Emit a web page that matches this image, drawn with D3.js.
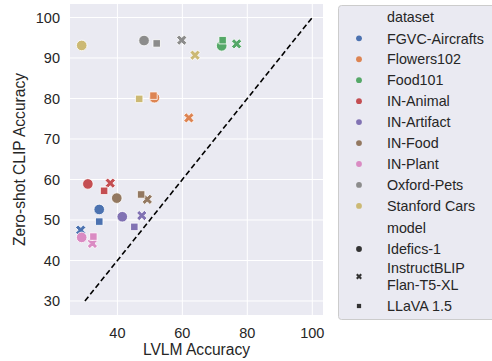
<!DOCTYPE html>
<html>
<head>
<meta charset="utf-8">
<script src="https://cdn.jsdelivr.net/npm/d3@7"></script>
<style>
  body { margin: 0; background: #fff; }
  text { font-family: "Liberation Sans", Arial, sans-serif; fill: #262626; }
</style>
</head>
<body>
<svg id="chart" width="492" height="361"></svg>
<script>
const datasets = ["FGVC-Aircrafts", "Flowers102", "Food101", "IN-Animal", "IN-Artifact",
                  "IN-Food", "IN-Plant", "Oxford-Pets", "Stanford Cars"];
const models = ["Idefics-1", "InstructBLIP Flan-T5-XL", "LLaVA 1.5"];
const colors = ["#4c72b0", "#dd8452", "#55a868", "#c44e52", "#8172b3",
                "#937860", "#da8bc3", "#8c8c8c", "#ccb974"];

// LVLM accuracy per dataset, one value per model (Idefics-1, InstructBLIP, LLaVA 1.5)
const lvlmAcc = [
    [34.4, 28.7, 34.4],
    [51.4, 62.0, 51.1],
    [72.1, 76.7, 72.4],
    [30.9, 37.8, 35.9],
    [41.5, 47.5, 45.2],
    [39.8, 49.2, 47.3],
    [29.0, 32.3, 32.6],
    [48.2, 59.8, 52.1],
    [29.0, 63.9, 46.7]
];
// Zero-shot CLIP accuracy, same layout
const clipAcc = [
    [52.6, 47.5, 49.6],
    [80.2, 75.2, 80.7],
    [93.0, 93.5, 94.4],
    [58.9, 59.1, 57.2],
    [50.8, 51.1, 48.3],
    [55.4, 55.1, 56.3],
    [45.7, 44.2, 45.9],
    [94.3, 94.4, 93.6],
    [93.1, 90.7, 79.9]
];
const xTicks = [40, 60, 80, 100];
const yTicks = [30, 40, 50, 60, 70, 80, 90, 100];

const svg = d3.select("#chart");
const plotLeft = 70, plotRight = 323, plotTop = 4, plotBottom = 315;

const x = d3.scaleLinear().domain([25.4, 103.3]).range([plotLeft, plotRight]);
const y = d3.scaleLinear().domain([26.54, 103.33]).range([plotBottom, plotTop]);

svg.append("rect")
    .attr("x", plotLeft).attr("y", plotTop)
    .attr("width", plotRight - plotLeft).attr("height", plotBottom - plotTop)
    .attr("fill", "#eaeaf2");

// grid
svg.append("g").selectAll("line").data(xTicks).join("line")
    .attr("x1", d => x(d)).attr("x2", d => x(d))
    .attr("y1", plotTop).attr("y2", plotBottom)
    .attr("stroke", "#fff").attr("stroke-width", 1);
svg.append("g").selectAll("line").data(yTicks).join("line")
    .attr("x1", plotLeft).attr("x2", plotRight)
    .attr("y1", d => y(d)).attr("y2", d => y(d))
    .attr("stroke", "#fff").attr("stroke-width", 1);

// tick labels
svg.append("g").selectAll("text").data(xTicks).join("text")
    .attr("x", d => x(d)).attr("y", 338)
    .attr("text-anchor", "middle")
    .style("font-size", "14.5px")
    .text(d => d);
svg.append("g").selectAll("text").data(yTicks).join("text")
    .attr("x", 60).attr("y", d => y(d) + 5.2)
    .attr("text-anchor", "end")
    .style("font-size", "14.5px")
    .text(d => d);

// axis labels
svg.append("text")
    .attr("x", (plotLeft + plotRight) / 2).attr("y", 355)
    .attr("text-anchor", "middle")
    .style("font-size", "15.6px")
    .text("LVLM Accuracy");
svg.append("text")
    .attr("transform", `translate(25,${(plotTop + plotBottom) / 2}) rotate(-90)`)
    .attr("text-anchor", "middle")
    .style("font-size", "15.6px")
    .text("Zero-shot CLIP Accuracy");

// diagonal
svg.append("line")
    .attr("x1", x(30)).attr("y1", y(30))
    .attr("x2", x(100)).attr("y2", y(100))
    .attr("stroke", "#000").attr("stroke-width", 1.6)
    .attr("stroke-dasharray", "5.5,3");

const shapes = [
    size => d3.symbol(d3.symbolCircle, size)(),
    size => d3.symbol(d3.symbolCross, size)(),
    size => d3.symbol(d3.symbolSquare, size)()
];
const rot = [0, 45, 0];
const sizes = [88, 66, 56];

const points = [];
datasets.forEach((ds, i) => {
    models.forEach((m, j) => {
        points.push({ i, j, lx: lvlmAcc[i][j], cy: clipAcc[i][j] });
    });
});

svg.append("g").selectAll("path").data(points).join("path")
    .attr("d", d => shapes[d.j](sizes[d.j]))
    .attr("transform", d => `translate(${x(d.lx)},${y(d.cy)}) rotate(${rot[d.j]})`)
    .attr("fill", d => colors[d.i])
    .attr("stroke", "#fff").attr("stroke-width", 0.8);

// legend
const lg = svg.append("g");
lg.append("rect")
    .attr("x", 338.5).attr("y", 5.5)
    .attr("width", 160).attr("height", 314)
    .attr("rx", 3)
    .attr("fill", "#eaeaf2")
    .attr("stroke", "#cccccc").attr("stroke-width", 1);

const legendFont = "14.3px";
lg.append("text").attr("x", 387).attr("y", 21.8).style("font-size", legendFont).text("dataset");
datasets.forEach((ds, i) => {
    const yy = 38.3 + i * 20.95;
    lg.append("circle").attr("cx", 359).attr("cy", yy).attr("r", 2.9).attr("fill", colors[i]);
    lg.append("text").attr("x", 387).attr("y", yy + 5.2).style("font-size", legendFont).text(ds);
});
lg.append("text").attr("x", 387).attr("y", 232.8).style("font-size", legendFont).text("model");
const modelRows = [249, 276.5, 306];
const modelLines = [["Idefics-1"], ["InstructBLIP", "Flan-T5-XL"], ["LLaVA 1.5"]];
const legendSizes = [26, 22, 18];
models.forEach((m, j) => {
    const yy = modelRows[j];
    lg.append("path")
        .attr("d", shapes[j](legendSizes[j]))
        .attr("transform", `translate(359,${yy}) rotate(${rot[j]})`)
        .attr("fill", "#333333");
    const lines = modelLines[j];
    lines.forEach((t, k) => {
        lg.append("text")
            .attr("x", 387)
            .attr("y", yy + 5.2 + (k - (lines.length - 1) / 2) * 16.5)
            .style("font-size", legendFont)
            .text(t);
    });
});
</script>
</body>
</html>
